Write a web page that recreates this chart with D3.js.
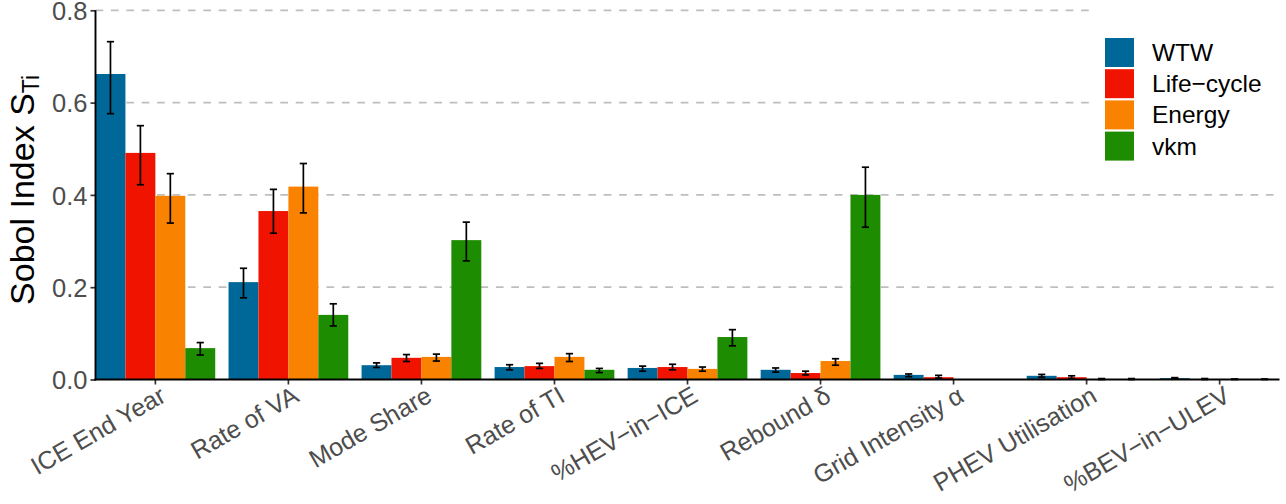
<!DOCTYPE html>
<html>
<head>
<meta charset="utf-8">
<script src="https://cdn.jsdelivr.net/npm/d3@7"></script>
<style>
  html, body { margin: 0; padding: 0; background: #fff; }
  svg { display: block; font-family: "Liberation Sans", Arial, sans-serif; }
</style>
</head>
<body>
<svg id="chart" width="1286" height="504"></svg>
<script>
// ---- data ----
const categories = ["ICE End Year", "Rate of VA", "Mode Share", "Rate of TI", "%HEV\u2212in\u2212ICE",
  "Rebound \u03b4", "Grid Intensity \u03b1", "PHEV Utilisation", "%BEV\u2212in\u2212ULEV"];
const seriesNames = ["WTW", "Life\u2212cycle", "Energy", "vkm"];
const seriesColors = ["#006898", "#F01400", "#F98300", "#1E8C00"];

const wtw      = [0.662, 0.211, 0.031, 0.027, 0.025, 0.021, 0.010, 0.008, 0.003];
const wtwLo    = [0.576, 0.177, 0.026, 0.021, 0.018, 0.016, 0.006, 0.005, 0.002];
const wtwHi    = [0.732, 0.241, 0.036, 0.032, 0.029, 0.025, 0.012, 0.011, 0.004];

const lifecycle   = [0.491, 0.365, 0.047, 0.029, 0.027, 0.014, 0.005, 0.005, 0.001];
const lifecycleLo = [0.422, 0.317, 0.039, 0.024, 0.021, 0.010, 0.003, 0.002, 0.000];
const lifecycleHi = [0.550, 0.412, 0.054, 0.035, 0.033, 0.018, 0.009, 0.008, 0.002];

const energy   = [0.398, 0.418, 0.049, 0.049, 0.023, 0.040, 0.000, 0.001, 0.000];
const energyLo = [0.339, 0.361, 0.040, 0.039, 0.018, 0.031, 0.000, 0.000, 0.000];
const energyHi = [0.446, 0.468, 0.055, 0.056, 0.027, 0.045, 0.000, 0.002, 0.001];

const vkm   = [0.068, 0.140, 0.302, 0.021, 0.092, 0.400, 0.000, 0.001, 0.000];
const vkmLo = [0.053, 0.116, 0.257, 0.015, 0.073, 0.330, 0.000, 0.000, 0.000];
const vkmHi = [0.080, 0.164, 0.341, 0.024, 0.108, 0.460, 0.000, 0.002, 0.001];

const yTicks = [0.0, 0.2, 0.4, 0.6, 0.8];

const series = [
  {name: seriesNames[0], color: seriesColors[0], v: wtw, lo: wtwLo, hi: wtwHi},
  {name: seriesNames[1], color: seriesColors[1], v: lifecycle, lo: lifecycleLo, hi: lifecycleHi},
  {name: seriesNames[2], color: seriesColors[2], v: energy, lo: energyLo, hi: energyHi},
  {name: seriesNames[3], color: seriesColors[3], v: vkm, lo: vkmLo, hi: vkmHi}
];

// ---- layout ----
const svg = d3.select("#chart");
const panel = {left: 95.5, right: 1279.5, top: 10.3, bottom: 379.5};

const x = d3.scaleBand().domain(categories)
  .range([panel.left, panel.right]).paddingInner(0.1).paddingOuter(0.0);
const xSub = d3.scaleBand().domain(seriesNames).range([0, x.bandwidth()]);
const y = d3.scaleLinear().domain([0, 0.8]).range([panel.bottom, panel.top]);

// gridlines
const grid = svg.append("g");
grid.selectAll("line").data(yTicks.filter(d => d > 0)).join("line")
  .attr("x1", panel.left).attr("x2", 1274)
  .attr("y1", d => y(d)).attr("y2", d => y(d))
  .attr("stroke", "#BEBEBE").attr("stroke-width", 1.8)
  .attr("stroke-dasharray", "7.7,7.7");

// bars
const groups = svg.append("g").selectAll("g").data(series).join("g");
groups.selectAll("rect").data(s => s.v.map((v, i) => ({s, v, i}))).join("rect")
  .attr("x", d => x(categories[d.i]) + xSub(d.s.name))
  .attr("width", xSub.bandwidth())
  .attr("y", d => y(d.v))
  .attr("height", d => y(0) - y(d.v))
  .attr("fill", d => d.s.color);

// error bars
const capHalf = 3.6;
const eb = svg.append("g").attr("stroke", "#000").attr("stroke-width", 1.7).attr("fill", "none");
series.forEach(s => {
  s.v.forEach((v, i) => {
    if (s.hi[i] <= 0) return;
    const cx = x(categories[i]) + xSub(s.name) + xSub.bandwidth() / 2;
    const g = eb.append("g");
    g.append("line").attr("x1", cx).attr("x2", cx).attr("y1", y(s.lo[i])).attr("y2", y(s.hi[i]));
    g.append("line").attr("x1", cx - capHalf).attr("x2", cx + capHalf).attr("y1", y(s.lo[i])).attr("y2", y(s.lo[i]));
    g.append("line").attr("x1", cx - capHalf).attr("x2", cx + capHalf).attr("y1", y(s.hi[i])).attr("y2", y(s.hi[i]));
  });
});

// axes
const yAxis = d3.axisLeft(y).tickValues(yTicks).tickFormat(d3.format(".1f")).tickSize(5).tickPadding(3);
const gy = svg.append("g").attr("transform", `translate(${panel.left},0)`).call(yAxis);
gy.select(".domain").remove();
gy.selectAll(".tick line").attr("stroke", "#333").attr("stroke-width", 1.7);
gy.selectAll(".tick text").attr("fill", "#4D4D4D").attr("font-size", 25.5)
  .attr("font-family", "Liberation Sans, Arial, sans-serif").attr("dy", "0.36em");

svg.append("line").attr("x1", panel.left).attr("x2", panel.left)
  .attr("y1", panel.top).attr("y2", panel.bottom + 1)
  .attr("stroke", "#000").attr("stroke-width", 1.9);

const xAxis = d3.axisBottom(x).tickSize(5).tickSizeOuter(0).tickFormat("");
const gx = svg.append("g").attr("transform", `translate(0,${panel.bottom})`).call(xAxis);
gx.select(".domain").remove();
gx.selectAll(".tick line").attr("stroke", "#333").attr("stroke-width", 1.7);

svg.append("line").attr("x1", panel.left - 1).attr("x2", panel.right)
  .attr("y1", panel.bottom).attr("y2", panel.bottom)
  .attr("stroke", "#000").attr("stroke-width", 2.2);

// x labels (rotated 30 deg)
svg.append("g").selectAll("text").data(categories).join("text")
  .attr("transform", d => `translate(${x(d) + x.bandwidth() / 2 + 12},${panel.bottom + 21}) rotate(-30)`)
  .attr("text-anchor", "end")
  .attr("fill", "#4D4D4D")
  .attr("font-size", 25)
  .text(d => d);

// y title
const yt = svg.append("text")
  .attr("transform", `translate(33.5,${(panel.top + panel.bottom) / 2 - 5}) rotate(-90)`)
  .attr("text-anchor", "middle").attr("fill", "#000").attr("font-size", 34);
yt.append("tspan").text("Sobol Index S");
yt.append("tspan").attr("font-size", 23).attr("dy", 5).text("Ti");

// legend
const legBg = svg.append("rect").attr("x", 1093).attr("y", 0).attr("width", 193).attr("height", 176).attr("fill", "#fff");
const leg = svg.append("g").attr("transform", "translate(1105,38)");
const items = leg.selectAll("g").data(series).join("g")
  .attr("transform", (d, i) => `translate(0,${i * 31.2})`);
items.append("rect").attr("width", 29).attr("height", 29).attr("fill", d => d.color);
items.append("text").attr("x", 47).attr("y", 23).attr("font-size", 24.5).attr("fill", "#000").text(d => d.name);
</script>
</body>
</html>
